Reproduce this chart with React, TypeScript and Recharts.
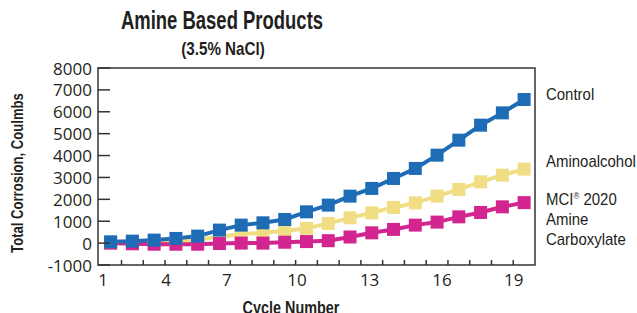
import React from 'react';
import {
  LineChart,
  Line,
  XAxis,
  YAxis,
  ReferenceArea,
  ReferenceLine,
} from 'recharts';

// cycle numbers 1..20
const CYCLES = [1, 2, 3, 4, 5, 6, 7, 8, 9, 10, 11, 12, 13, 14, 15, 16, 17, 18, 19, 20];

const CONTROL = [59, 90, 137, 213, 320, 594, 822, 927, 1080, 1429, 1735, 2146, 2498, 2954, 3411, 4018, 4703, 5388, 5950, 6560];
const AMINOALCOHOL = [0, 0, 0, 30, 150, 290, 400, 470, 560, 671, 900, 1155, 1384, 1630, 1840, 2146, 2452, 2800, 3105, 3380];
const MCI_2020 = [0, -30, -50, -50, -50, -20, 0, 0, 40, 70, 110, 280, 470, 626, 822, 960, 1200, 1400, 1658, 1850];

const Y_TICKS = [-1000, 0, 1000, 2000, 3000, 4000, 5000, 6000, 7000, 8000];
// the source places its category labels a little off the points
const X_TICK_LABELS = ['1', '4', '7', '10', '13', '16', '19'];
const X_TICK_AT = [0.66, 3.55, 6.34, 9.56, 12.9, 16.23, 19.52];
const X_BOUNDARIES = [1.5, 2.5, 3.5, 4.5, 5.5, 6.5, 7.5, 8.5, 9.5, 10.5, 11.5, 12.5, 13.5, 14.5, 15.5, 16.5, 17.5, 18.5, 19.5];

const X_DOMAIN: [number, number] = [0.42, 20.5];
const Y_DOMAIN: [number, number] = [-1000, 8000];

const COLORS = {
  control: '#1f6cb6',
  amino: '#f1de84',
  mci: '#d3258f',
};

const TEXT = '#231f20';
// no condensed face installed, so Liberation Sans gets squeezed with scaleX
const SANS = '"Liberation Sans", Arial, sans-serif';
const TICK_FONT = '"Open Sans", sans-serif';

const data = CYCLES.map((c, i) => ({
  cycle: c,
  control: CONTROL[i],
  amino: AMINOALCOHOL[i],
  mci: MCI_2020[i],
}));

const squareDot = (color: string) => (props: any) => {
  const { cx, cy, index } = props;
  if (cx == null || cy == null) return <g key={index} />;
  return <rect key={index} x={cx - 6.5} y={cy - 6.5} width={13} height={13} fill={color} />;
};

function YTick(props: any) {
  const { x, y, payload } = props;
  return (
    <g>
      <line x1={x + 6} x2={x + 18} y1={y} y2={y} stroke="#333" strokeWidth={1.5} />
      <text x={x} y={y} textAnchor="end" dominantBaseline="central" fontSize={17} fill={TEXT} fontFamily={TICK_FONT}>
        {payload.value}
      </text>
    </g>
  );
}

// text centred on (cx, cy), condensed horizontally
function Txt(props: {
  cx: number;
  cy: number;
  size: number;
  sx: number;
  bold?: boolean;
  rotate?: number;
  anchor?: 'center' | 'left';
  children: React.ReactNode;
}) {
  const { cx, cy, size, sx, bold, rotate = 0, anchor = 'center', children } = props;
  const tx = anchor === 'center' ? '-50%' : '0';
  return (
    <div
      style={{
        position: 'absolute',
        left: cx,
        top: cy,
        color: TEXT,
        fontFamily: SANS,
        fontSize: size,
        fontWeight: bold ? 700 : 400,
        lineHeight: 1,
        whiteSpace: 'nowrap',
        transformOrigin: anchor === 'center' ? '50% 50%' : '0 50%',
        transform: `translate(${tx}, -50%) rotate(${rotate}deg) scaleX(${sx})`,
      }}
    >
      {children}
    </div>
  );
}

export default function App() {
  return (
    <div style={{ position: 'absolute', left: 0, top: 0, width: 637, height: 313, background: '#fff', overflow: 'hidden' }}>
      <LineChart
        width={637}
        height={313}
        data={data}
        margin={{ top: 68, right: 102, bottom: 0, left: 0 }}
      >
        <XAxis
          dataKey="cycle"
          type="number"
          domain={X_DOMAIN}
          allowDataOverflow
          ticks={X_TICK_AT}
          tickFormatter={(v: number) => X_TICK_LABELS[X_TICK_AT.indexOf(v)] ?? ''}
          tick={{ fontSize: 17, fill: TEXT, fontFamily: TICK_FONT }}
          tickLine={false}
          axisLine={false}
          tickSize={0}
          tickMargin={9}
          height={48}
        />
        <YAxis
          type="number"
          domain={Y_DOMAIN}
          ticks={Y_TICKS}
          interval={0}
          width={98}
          tick={<YTick />}
          tickLine={false}
          axisLine={false}
          tickSize={0}
          tickMargin={6}
        />
        {X_BOUNDARIES.map((b) => (
          <ReferenceLine
            key={b}
            segment={[{ x: b, y: -1000 }, { x: b, y: -770 }]}
            stroke="#333"
            strokeWidth={1.5}
          />
        ))}
        <ReferenceArea
          x1={X_DOMAIN[0]}
          x2={X_DOMAIN[1]}
          y1={Y_DOMAIN[0]}
          y2={Y_DOMAIN[1]}
          fill="none"
          fillOpacity={0}
          stroke="#333"
          strokeWidth={1.5}
        />
        <Line
          dataKey="amino"
          stroke={COLORS.amino}
          strokeWidth={4}
          dot={squareDot(COLORS.amino)}
          activeDot={false}
          isAnimationActive={false}
        />
        <Line
          dataKey="mci"
          stroke={COLORS.mci}
          strokeWidth={4}
          dot={squareDot(COLORS.mci)}
          activeDot={false}
          isAnimationActive={false}
        />
        <Line
          dataKey="control"
          stroke={COLORS.control}
          strokeWidth={4}
          dot={squareDot(COLORS.control)}
          activeDot={false}
          isAnimationActive={false}
        />
      </LineChart>

      <Txt cx={222} cy={20} size={26} sx={0.71} bold>
        Amine Based Products
      </Txt>
      <Txt cx={223} cy={48} size={19} sx={0.8} bold>
        (3.5% NaCl)
      </Txt>
      <Txt cx={17} cy={173} size={17} sx={0.77} bold rotate={-90}>
        Total Corrosion, Coulmbs
      </Txt>
      <Txt cx={291} cy={308} size={18} sx={0.8} bold>
        Cycle Number
      </Txt>

      <Txt cx={546} cy={94} size={17} sx={0.88} anchor="left">Control</Txt>
      <Txt cx={546} cy={161} size={17} sx={0.88} anchor="left">Aminoalcohol</Txt>
      <Txt cx={546} cy={199} size={17} sx={0.88} anchor="left">
        MCI<sup style={{ fontSize: 9, verticalAlign: 'top', lineHeight: '10px' }}>®</sup> 2020
      </Txt>
      <Txt cx={546} cy={219} size={17} sx={0.88} anchor="left">Amine</Txt>
      <Txt cx={546} cy={239} size={17} sx={0.88} anchor="left">Carboxylate</Txt>
    </div>
  );
}
